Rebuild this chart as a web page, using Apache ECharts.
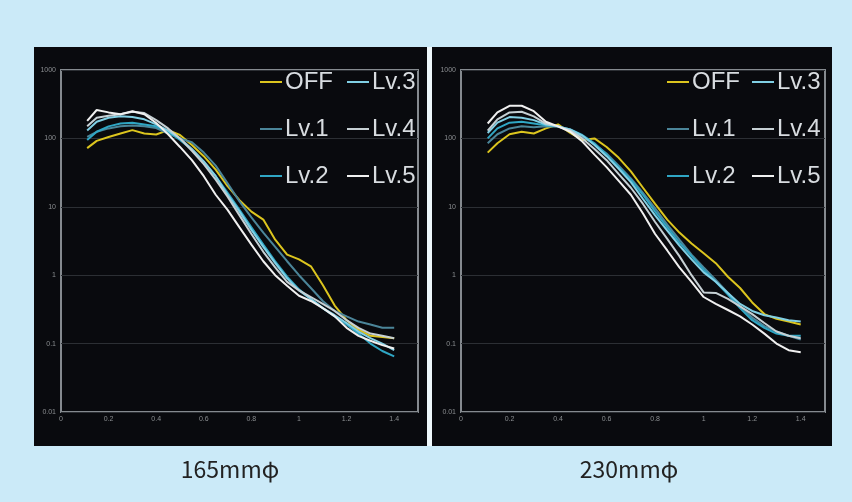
<!DOCTYPE html>
<html>
<head>
<meta charset="utf-8">
<script src="https://cdn.jsdelivr.net/npm/echarts@6.0.0/dist/echarts.min.js"></script>
<style>
  html, body { margin: 0; padding: 0; background: #cbeaf8; }
  #chart { width: 852px; height: 502px; }
</style>
</head>
<body>
<div id="chart"></div>
<script>
// x positions of the readings (same for every curve)
const xs = [0.11, 0.15, 0.2, 0.25, 0.3, 0.35, 0.4, 0.45, 0.5, 0.55, 0.6, 0.65, 0.7, 0.75,
            0.8, 0.85, 0.9, 0.95, 1.0, 1.05, 1.1, 1.15, 1.2, 1.25, 1.3, 1.35, 1.4];
const xTicks = [0, 0.2, 0.4, 0.6, 0.8, 1, 1.2, 1.4];
const yTicks = [0.01, 0.1, 1, 10, 100, 1000];
const names = ['OFF', 'Lv.1', 'Lv.2', 'Lv.3', 'Lv.4', 'Lv.5'];
const captions = ['165mmφ', '230mmφ'];

// 165mm
const a_off = [72, 92, 105, 118, 132, 118, 114, 132, 112, 80, 55, 35, 20, 12.5, 8.5, 6.5, 3.3, 2.0, 1.7, 1.35, 0.72, 0.36, 0.22, 0.16, 0.13, 0.125, 0.12];
const a_lv1 = [105, 125, 140, 150, 155, 150, 142, 118, 100, 88, 62, 40, 22, 12, 7, 4.2, 2.6, 1.6, 1.0, 0.65, 0.42, 0.3, 0.25, 0.21, 0.19, 0.17, 0.17];
const a_lv2 = [95, 125, 150, 165, 170, 160, 150, 125, 95, 68, 45, 28, 16, 9, 5, 2.8, 1.6, 0.95, 0.62, 0.45, 0.33, 0.25, 0.19, 0.14, 0.1, 0.078, 0.065];
const a_lv3 = [130, 175, 200, 210, 205, 190, 160, 130, 100, 70, 46, 28, 15, 8.5, 4.6, 2.6, 1.5, 0.9, 0.6, 0.45, 0.33, 0.26, 0.2, 0.15, 0.12, 0.1, 0.08];
const a_lv4 = [150, 200, 215, 225, 245, 235, 185, 140, 100, 66, 42, 25, 14, 7.5, 4, 2.2, 1.3, 0.8, 0.6, 0.48, 0.38, 0.3, 0.22, 0.17, 0.14, 0.13, 0.12];
const a_lv5 = [180, 260, 240, 225, 250, 225, 168, 115, 75, 48, 28, 15, 9, 5, 2.8, 1.6, 1.0, 0.7, 0.5, 0.42, 0.33, 0.25, 0.17, 0.13, 0.11, 0.095, 0.085];

// 230mm
const b_off = [62, 85, 115, 125, 118, 140, 160, 120, 95, 100, 75, 52, 33, 19, 11, 6.5, 4.2, 2.9, 2.1, 1.5, 0.95, 0.65, 0.4, 0.27, 0.23, 0.21, 0.19];
const b_lv1 = [85, 115, 140, 150, 145, 150, 148, 130, 108, 82, 60, 40, 26, 16, 9.5, 5.5, 3.3, 2.0, 1.3, 0.85, 0.55, 0.35, 0.24, 0.18, 0.15, 0.13, 0.115];
const b_lv2 = [100, 140, 170, 175, 165, 155, 150, 135, 112, 85, 58, 38, 25, 15, 8.5, 5, 3, 1.9, 1.2, 0.8, 0.52, 0.33, 0.22, 0.17, 0.14, 0.13, 0.13];
const b_lv3 = [120, 170, 205, 200, 185, 160, 150, 135, 110, 80, 55, 36, 23, 13, 7.5, 4.5, 2.7, 1.7, 1.1, 0.8, 0.55, 0.38, 0.3, 0.26, 0.24, 0.22, 0.21];
const b_lv4 = [130, 190, 240, 245, 210, 165, 150, 130, 100, 70, 48, 30, 19, 11, 6, 3.4, 1.9, 1.0, 0.56, 0.55, 0.45, 0.35, 0.27, 0.2, 0.15, 0.13, 0.12];
const b_lv5 = [165, 240, 300, 300, 250, 175, 150, 125, 90, 58, 38, 24, 15, 8, 4, 2.3, 1.3, 0.8, 0.48, 0.38, 0.31, 0.25, 0.19, 0.14, 0.1, 0.08, 0.075];

const panels = [
  [a_off, a_lv1, a_lv2, a_lv3, a_lv4, a_lv5],
  [b_off, b_lv1, b_lv2, b_lv3, b_lv4, b_lv5]
];
const colors = ['#dcc51e', '#4b8599', '#2fa6c4', '#80cfe4', '#c6d0d4', '#f0f0f0'];

const chart = echarts.init(document.getElementById('chart'));

const grids = [
  { left: 61, right: 434, top: 70, bottom: 90 },
  { left: 461, right: 27, top: 70, bottom: 90 }
].map(g => Object.assign(g, { show: true, borderColor: '#858a8f', borderWidth: 2, backgroundColor: 'transparent' }));

const xAxes = grids.map((g, i) => ({
  type: 'value', gridIndex: i, min: 0, max: 1.5, interval: 0.2,
  axisLine: { show: false }, axisTick: { show: false }, splitLine: { show: false },
  axisLabel: {
    color: '#8a8d90', fontSize: 7, margin: 4, showMaxLabel: false,
    formatter: v => xTicks.some(t => Math.abs(t - v) < 1e-6) ? String(+v.toFixed(1)) : ''
  }
}));

const yAxes = grids.map((g, i) => ({
  type: 'log', logBase: 10, gridIndex: i, min: yTicks[0], max: yTicks[yTicks.length - 1],
  axisLine: { show: false }, axisTick: { show: false },
  splitLine: { lineStyle: { color: '#2c2f34', width: 1 } },
  axisLabel: { color: '#8a8d90', fontSize: 7, margin: 5, formatter: v => String(v) }
}));

const series = [];
panels.forEach((vals, p) => {
  vals.forEach((v, k) => {
    series.push({
      name: names[k], type: 'line', xAxisIndex: p, yAxisIndex: p,
      data: xs.map((x, j) => [x, v[j]]),
      symbol: 'none', silent: true,
      lineStyle: { width: 2, color: colors[k] },
      itemStyle: { color: colors[k] }
    });
  });
});

const legendBase = {
  orient: 'vertical', top: 70, itemGap: 23, itemWidth: 22, itemHeight: 2, icon: 'rect',
  selectedMode: false, padding: 0,
  textStyle: { color: '#d8dce0', fontSize: 24, fontFamily: 'Liberation Sans, Arial, sans-serif', padding: [0, 0, 0, -2] }
};
const legends = [
  { left: 260, data: names.slice(0, 3) },
  { left: 347, data: names.slice(3) },
  { left: 667, data: names.slice(0, 3) },
  { left: 752, data: names.slice(3) }
].map(l => Object.assign({}, legendBase, l));

const capFont = '23px "Noto Sans CJK JP", sans-serif';

chart.setOption({
  animation: false,
  backgroundColor: '#cbeaf8',
  graphic: [
    { type: 'rect', z: -10, shape: { x: 34, y: 47, width: 393, height: 399 }, style: { fill: '#090a0e' } },
    { type: 'rect', z: -10, shape: { x: 427, y: 47, width: 5, height: 399 }, style: { fill: '#eef8fc' } },
    { type: 'rect', z: -10, shape: { x: 432, y: 47, width: 400, height: 399 }, style: { fill: '#090a0e' } },
    { type: 'text', z: 10, x: 230, y: 469, style: { text: captions[0], fill: '#222', font: capFont, textAlign: 'center', textVerticalAlign: 'middle' } },
    { type: 'text', z: 10, x: 629, y: 469, style: { text: captions[1], fill: '#222', font: capFont, textAlign: 'center', textVerticalAlign: 'middle' } }
  ],
  grid: grids,
  xAxis: xAxes,
  yAxis: yAxes,
  legend: legends,
  series: series
});
</script>
</body>
</html>
